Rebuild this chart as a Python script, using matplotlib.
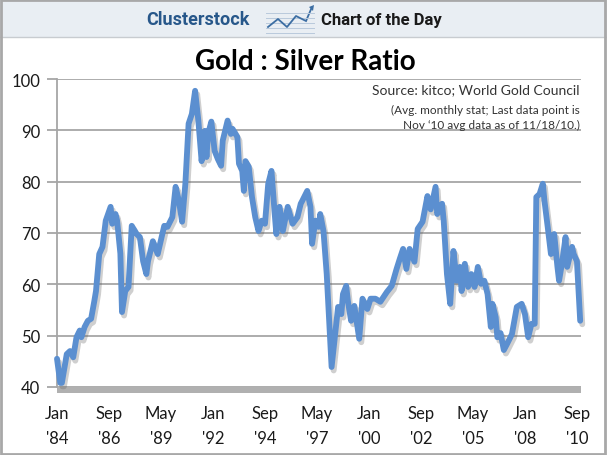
import matplotlib.pyplot as plt
import matplotlib.patheffects as pe
from matplotlib.patches import Rectangle
from matplotlib.lines import Line2D

plt.rcParams['font.family'] = ['Lato', 'DejaVu Sans']

# months counted from Jan 1984, gold:silver ratio
months = [0, 2, 3, 6, 8, 10, 12, 14, 15, 17, 19, 21, 23, 24, 26, 28, 30, 33,
          34, 36, 37, 39, 40, 42, 44, 46, 49, 51, 53, 55, 56, 59, 62, 63, 66,
          68, 71, 73, 75, 77, 79, 81, 83, 85, 87, 89, 91, 92, 93, 95, 97, 99,
          101, 102, 105, 107, 108, 111, 112, 114, 115, 116, 118, 120, 122,
          124, 126, 128, 130, 132, 134, 135, 137, 139, 142, 145, 148, 150,
          151, 154, 156, 157, 159, 161, 162, 164, 166, 168, 169, 171, 173,
          175, 176, 178, 179, 181, 183, 186, 188, 191, 193, 196, 199, 203,
          206, 209, 211, 213, 215, 217, 220, 222, 225, 228, 230, 233, 234,
          237, 238, 240, 242, 244, 246, 248, 249, 251, 253, 255, 257, 259,
          261, 263, 265, 267, 268, 270, 271, 273, 275, 277, 280, 283, 286,
          288, 290, 292, 294, 295, 297, 299, 300, 302, 304, 306, 308, 309,
          311, 313, 314, 317, 318, 320, 322]
ratio = [45.5, 40.8, 40.8, 46.4, 47.0, 45.8, 49.7, 51.0, 49.7, 51.7, 52.9,
         53.3, 56.8, 58.7, 65.9, 67.3, 72.4, 75.1, 71.8, 73.7, 72.4, 66.0,
         54.6, 58.7, 59.5, 71.4, 69.8, 69.2, 64.5, 62.0, 64.5, 68.4, 65.9,
         67.3, 71.4, 71.2, 73.1, 79.0, 76.3, 72.2, 79.6, 91.3, 93.2, 97.7,
         91.9, 84.0, 89.9, 84.8, 89.3, 91.7, 86.0, 84.4, 83.1, 88.0, 91.9,
         89.3, 90.3, 88.7, 83.5, 82.1, 78.2, 84.0, 82.9, 77.0, 73.1, 70.4,
         72.4, 71.8, 79.6, 82.1, 73.7, 69.8, 75.1, 70.4, 75.1, 71.8, 73.1,
         75.7, 76.3, 78.2, 75.1, 67.9, 72.4, 71.2, 73.7, 70.4, 62.0, 49.7,
         43.9, 49.7, 55.6, 54.2, 58.1, 59.7, 56.8, 52.9, 55.8, 49.4, 57.2,
         55.2, 57.2, 57.2, 56.6, 58.5, 59.7, 63.0, 65.0, 66.9, 63.0, 66.9,
         64.4, 70.8, 72.2, 77.2, 74.6, 79.0, 73.7, 75.7, 72.4, 62.0, 56.2,
         66.5, 60.7, 63.4, 58.7, 64.0, 59.5, 62.0, 59.5, 63.4, 60.1, 60.7,
         58.1, 51.7, 56.2, 53.6, 49.7, 50.5, 47.2, 48.4, 50.3, 55.6, 56.2,
         54.2, 49.7, 52.3, 52.3, 77.0, 77.6, 79.6, 76.3, 71.2, 65.9, 69.8,
         63.4, 60.7, 64.5, 69.2, 63.4, 67.3, 65.9, 64.5, 52.9]

tick_months = [0, 32, 64, 96, 128, 160, 192, 224, 256, 288, 320]
tick_labels = ["Jan\n'84", "Sep\n'86", "May\n'89", "Jan\n'92", "Sep\n'94",
               "May\n'97", "Jan\n'00", "Sep\n'02", "May\n'05", "Jan\n'08",
               "Sep\n'10"]
y_ticks = [40, 50, 60, 70, 80, 90, 100]

W, H = 607, 456
fig = plt.figure(figsize=(W / 100, H / 100), dpi=100)
fig.patch.set_facecolor('white')

# header band and frame
fig.add_artist(Rectangle((0, 1 - 38 / H), 1, 38 / H, transform=fig.transFigure,
                         facecolor='#e9eef3', edgecolor='none', zorder=0))
fig.add_artist(Line2D([0, 1], [1 - 38 / H] * 2, transform=fig.transFigure,
                      color='#c8ccd0', lw=1))
fig.add_artist(Rectangle((1 / W, 1 / H), 1 - 3 / W, 1 - 2 / H,
                         transform=fig.transFigure, facecolor='none',
                         edgecolor='#a8a8a8', lw=2, zorder=5))

fig.text(198 / W, 1 - 20 / H, 'Clusterstock', family=['Roboto', 'DejaVu Sans'],
         weight='bold', fontsize=13, color='#27578a', ha='center', va='center')
fig.text(381 / W, 1 - 20 / H, 'Chart of the Day', family=['Roboto', 'DejaVu Sans'],
         weight='bold', fontsize=12, color='#1a1a1a', ha='center', va='center')

# little logo
for k in range(5):
    yy = 1 - (14 + k * 5) / H
    fig.add_artist(Line2D([266 / W, 314 / W], [yy, yy], transform=fig.transFigure,
                          color='#b9c9dc', lw=0.7))
zx = [268, 278, 287, 296, 306]
zy = [28, 20, 28, 17, 22]
fig.add_artist(Line2D([v / W for v in zx], [1 - v / H for v in zy],
                      transform=fig.transFigure, color='#3c6ea3', lw=1.3))
fig.add_artist(plt.Polygon([(306 / W, 1 - 22 / H), (312 / W, 1 - 8 / H)],
                           closed=False, transform=fig.transFigure,
                           edgecolor='#3c6ea3', lw=1.3))
fig.add_artist(plt.Polygon([(309 / W, 1 - 8 / H), (314 / W, 1 - 6 / H),
                            (313 / W, 1 - 12 / H)], transform=fig.transFigure,
                           facecolor='#3c6ea3', edgecolor='none'))

fig.text(305 / W, 1 - 62 / H, 'Gold : Silver Ratio', weight='bold',
         fontsize=20, color='black', ha='center', va='center')

ax = fig.add_axes([57 / W, 1 - 388 / H, (581 - 57) / W, (388 - 80) / H])
ax.set_xlim(0, 322.5)
ax.set_ylim(40, 100)

ax.plot(months, ratio, color='#5b8fd0', lw=4.2, solid_joinstyle='round',
        solid_capstyle='round', zorder=3, clip_on=False,
        path_effects=[pe.SimpleLineShadow(offset=(1.5, -2.5),
                                          shadow_color='#606060', alpha=0.3),
                      pe.Normal()])

ax.set_yticks(y_ticks)
ax.set_xticks(tick_months)
ax.set_xticklabels(tick_labels, linespacing=1.7)
ax.grid(axis='y', color='#a6a6a6', lw=1.3)
ax.set_axisbelow(True)
ax.tick_params(axis='y', length=7, width=1.3, color='#a6a6a6', pad=5,
               labelsize=12, labelcolor='#1a1a1a')
ax.tick_params(axis='x', length=0, pad=13, labelsize=12, labelcolor='#1a1a1a')
for s in ['top', 'right', 'bottom']:
    ax.spines[s].set_visible(False)
ax.spines['left'].set_color('#a6a6a6')
ax.spines['left'].set_linewidth(1.3)

# gray floor band under the plot
ax.add_patch(Rectangle((0, -0.02), 1, 0.02, transform=ax.transAxes,
                       clip_on=False, facecolor='#b0b0b0', edgecolor='none',
                       zorder=2))

ax.text(0.997, 0.967, 'Source: kitco; World Gold Council', transform=ax.transAxes,
        ha='right', va='center', fontsize=10, color='#333333')
ax.text(0.997, 0.918, "(Avg. monthly stat; Last data point is\n"
        "Nov \u201810 avg data as of 11/18/10.)", transform=ax.transAxes,
        ha='right', va='top', fontsize=8.5, color='#333333', linespacing=1.35)

fig.savefig('out.png', dpi=100)
